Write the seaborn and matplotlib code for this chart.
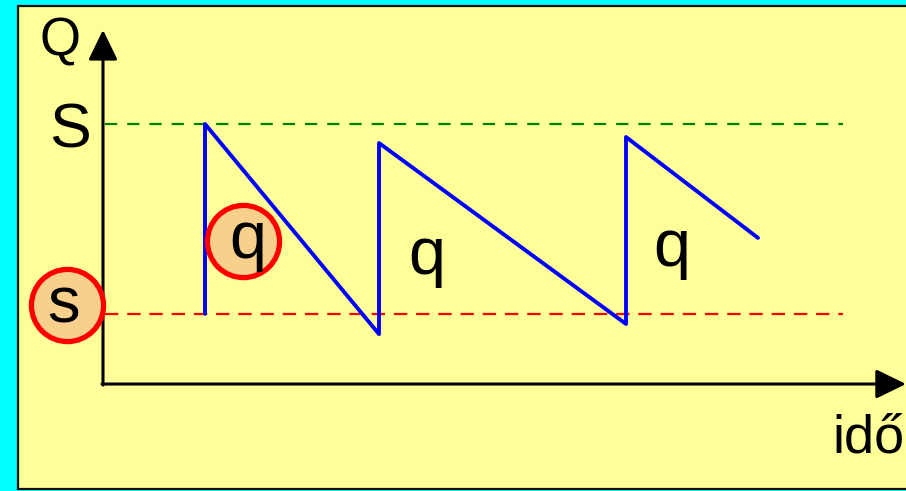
import matplotlib
matplotlib.use("Agg")
import matplotlib.pyplot as plt
from matplotlib.patches import Rectangle
import seaborn as sns
import pandas as pd

# ---- data (schematic (s, S) inventory policy) ----
time_pts = [10.2, 10.2, 27.6, 27.6, 52.3, 52.3, 65.5]
stock_pts = [27.0, 100.0, 19.2, 92.7, 23.1, 95.0, 56.2]
S_level = 100.0
s_level = 27.0
level_labels = ["S", "s"]
axis_labels = ["Q", "idő"]
order_label = "q"
order_label_t = [14.5, 32.4, 56.9]
order_label_q = [48.5, 42.3, 45.4]

sns.set_theme(style="white")
plt.rcParams["font.family"] = ["Liberation Sans", "DejaVu Sans"]
plt.rcParams["text.color"] = "black"

fig = plt.figure(figsize=(9.06, 4.91), dpi=100, facecolor="#00FFFF")
W, H = 906.0, 491.0
# yellow panel
fig.patches.append(Rectangle((18 / W, (H - 489) / H), (915 - 18) / W, (489 - 6) / H,
                             transform=fig.transFigure, facecolor="#FFFF99",
                             edgecolor="#111111", linewidth=1.6, zorder=-10))
ax = fig.add_axes([0, 0, 1, 1])
ax.set_facecolor("none")
ax.patch.set_alpha(0)
ax.set_xlim(-10.3, 80.3)
ax.set_ylim(-41.15, 147.7)

# dashed levels
ax.plot([0.2, 74.0], [S_level, S_level], color="#008000", lw=1.6,
        linestyle=(0, (5.5, 4.5)), zorder=2)
ax.plot([0.2, 74.0], [s_level, s_level], color="#FF0000", lw=1.6,
        linestyle=(0, (6, 4.0)), zorder=2)

# sawtooth
df = pd.DataFrame({"t": time_pts, "Q": stock_pts})
sns.lineplot(data=df, x="t", y="Q", sort=False, estimator=None, color="#0000FF",
             lw=2.8, ax=ax, zorder=3)

# axes with arrows
arrow_kw = dict(arrowstyle="-|>,head_length=1.85,head_width=0.9", mutation_scale=10,
                lw=2.2, color="black", shrinkA=0, shrinkB=0)
ax.annotate("", xy=(0, 136.2), xytext=(0, -0.4), arrowprops=arrow_kw, zorder=4)
ax.annotate("", xy=(80.3, 0), xytext=(-0.1, 0), arrowprops=arrow_kw, zorder=4)

# circles
circ = pd.DataFrame({"t": [-3.6, 13.95], "Q": [30.4, 55.0]})
sns.scatterplot(data=circ, x="t", y="Q", s=2700, color="#F8D08C", edgecolor="#FF0000",
                linewidth=3.8, ax=ax, zorder=5, legend=False)

# texts
ax.text(-4.3, 126.2, axis_labels[0], fontsize=38, color="black", ha="center", va="baseline", zorder=6)
ax.text(72.9, -26.5, axis_labels[1], fontsize=39, color="black", ha="left", va="baseline", zorder=6)
ax.text(-3.3, 90.8, level_labels[0], fontsize=45, color="black", ha="center", va="baseline", zorder=6)
ax.text(-3.9, 23.8, level_labels[1], fontsize=47, color="black", ha="center", va="baseline", zorder=6)
for tx, qy in zip(order_label_t, order_label_q):
    ax.text(tx, qy, order_label, fontsize=48, color="black", ha="center", va="baseline", zorder=6)

ax.set_xlim(-10.3, 80.3)
ax.set_ylim(-41.15, 147.7)
ax.axis("off")

fig.savefig("out.png", dpi=100, facecolor=fig.get_facecolor())
